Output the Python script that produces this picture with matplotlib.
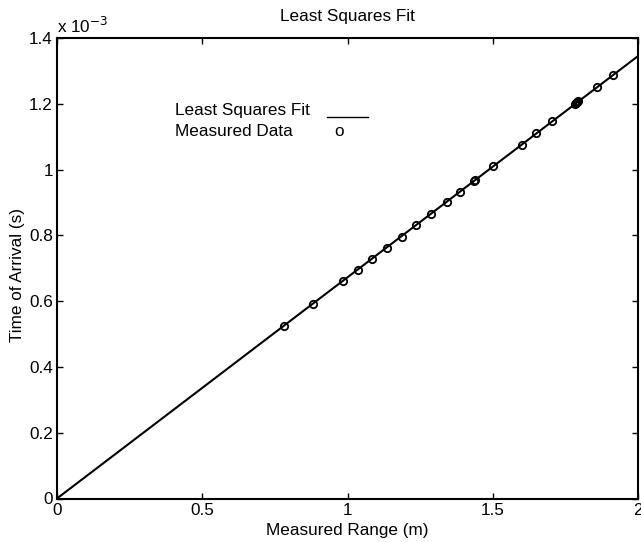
import matplotlib
matplotlib.use("Agg")
import matplotlib.pyplot as plt
import numpy as np

plt.rcParams['font.family'] = ['Liberation Sans', 'DejaVu Sans']

# Measured data (range in m, time of arrival in ms)
range_m = [0.783, 0.882, 0.985, 1.037, 1.086, 1.137, 1.186, 1.236, 1.286, 1.341,
           1.386, 1.434, 1.440, 1.502, 1.601, 1.649, 1.704,
           1.783, 1.787, 1.791, 1.795, 1.859, 1.915]
toa_ms = [0.523, 0.591, 0.660, 0.695, 0.728, 0.762, 0.796, 0.830, 0.865, 0.900,
          0.932, 0.964, 0.968, 1.011, 1.076, 1.112, 1.147,
          1.199, 1.202, 1.205, 1.207, 1.251, 1.289]
toa_s = [v * 1e-3 for v in toa_ms]

# Least squares fit (slope s/m, intercept s)
fit_slope = 0.6725e-3
fit_intercept = 0.0
fit_range = [0.0, 2.0]

x_ticks = [0, 0.5, 1, 1.5, 2]
x_tick_labels = ["0", "0.5", "1", "1.5", "2"]
y_ticks_ms = [0, 0.2, 0.4, 0.6, 0.8, 1.0, 1.2, 1.4]
y_tick_labels = ["0", "0.2", "0.4", "0.6", "0.8", "1", "1.2", "1.4"]

FS = 12.3
W, H = 641, 542
fig = plt.figure(figsize=(W / 100, H / 100), dpi=100)
left, right, top, bottom = 57, 638, 38, 498.5
ax = fig.add_axes([left / W, (H - bottom) / H, (right - left) / W, (bottom - top) / H])
AH = bottom - top
AW = right - left

def ay(py):
    return (bottom - py) / AH

def axx(px):
    return (px - left) / AW

fx = np.array(fit_range)
ax.plot(fx, fit_slope * fx + fit_intercept, color='black', lw=1.5, solid_capstyle='butt')
ax.plot(range_m, toa_s, linestyle='none', marker='o', markersize=5.3,
        markerfacecolor='none', markeredgecolor='black', markeredgewidth=1.3)

ax.set_xlim(0, 2)
ax.set_ylim(0, 1.4e-3)
ax.set_xticks(x_ticks)
ax.set_xticklabels(x_tick_labels)
ax.set_yticks([v * 1e-3 for v in y_ticks_ms])
ax.set_yticklabels(y_tick_labels)
ax.tick_params(direction='in', top=True, right=True, length=4, width=1.0,
               labelsize=FS, pad=3)
for s in ax.spines.values():
    s.set_linewidth(1.5)

ax.set_xlabel("Measured Range (m)", fontsize=FS)
ax.xaxis.set_label_coords(0.5, ay(531))
ax.xaxis.label.set_verticalalignment('center')
ax.set_ylabel("Time of Arrival (s)", fontsize=FS)
ax.yaxis.set_label_coords(axx(17.5), ay(275))
ax.yaxis.label.set_verticalalignment('center')

ax.text(0.5, ay(17), "Least Squares Fit", transform=ax.transAxes, fontsize=FS,
        ha='center', va='center')
ax.text(0.0, ay(33), r"x 10$^{-3}$", transform=ax.transAxes, fontsize=FS,
        ha='left', va='baseline')

# MATLAB-style legend
ax.text(axx(175), ay(110), "Least Squares Fit", transform=ax.transAxes, fontsize=FS,
        ha='left', va='center')
ax.text(axx(175), ay(132), "Measured Data", transform=ax.transAxes, fontsize=FS,
        ha='left', va='center')
ax.plot([axx(327), axx(368)], [ay(117), ay(117)], transform=ax.transAxes,
        color='black', lw=1.0)
ax.text(axx(339), ay(132), "o", transform=ax.transAxes, fontsize=FS,
        ha='center', va='center')

fig.savefig("out.png", dpi=100)
